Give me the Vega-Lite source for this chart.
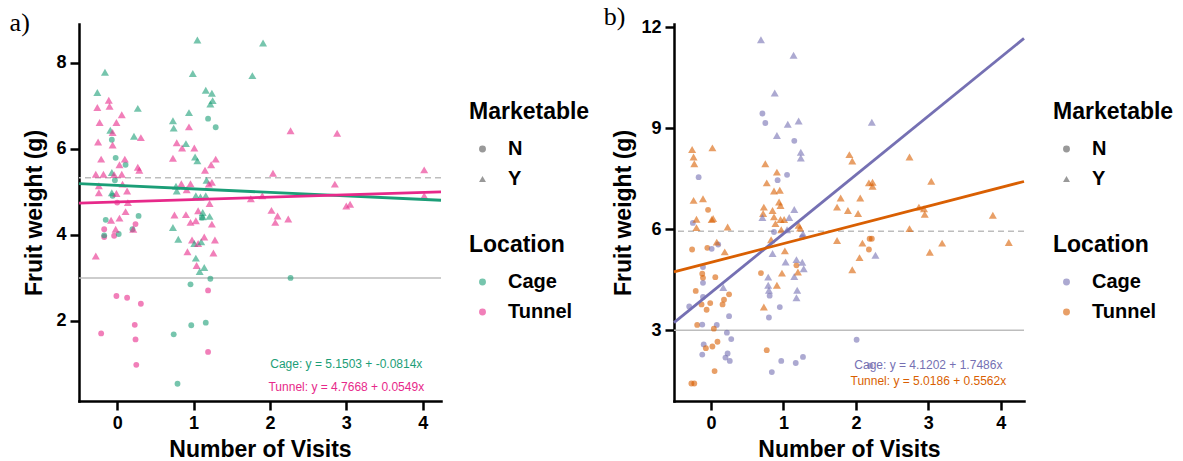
{
"$schema": "https://vega.github.io/schema/vega-lite/v6.json",
"padding": {"left": 9, "top": 4, "right": 5, "bottom": 0},
"background": "white",
"datasets": {
"ptsA": [
{"x":-0.16,"y":7.78,"loc":"Cage","mk":"Y"},{"x":-0.26,"y":7.31,"loc":"Cage","mk":"Y"},{"x":-0.11,"y":7.13,"loc":"Tunnel","mk":"Y"},{"x":-0.26,"y":6.96,"loc":"Tunnel","mk":"Y"},{"x":-0.10,"y":6.99,"loc":"Tunnel","mk":"Y"},{"x":0.06,"y":6.79,"loc":"Tunnel","mk":"Y"},{"x":-0.23,"y":6.61,"loc":"Tunnel","mk":"Y"},{"x":-0.01,"y":6.61,"loc":"Tunnel","mk":"Y"},{"x":0.27,"y":6.94,"loc":"Cage","mk":"Y"},{"x":-0.09,"y":6.43,"loc":"Cage","mk":"Y"},
{"x":-0.06,"y":6.38,"loc":"Tunnel","mk":"Y"},{"x":-0.07,"y":6.21,"loc":"Cage","mk":"N"},{"x":0.22,"y":6.29,"loc":"Cage","mk":"Y"},{"x":0.31,"y":6.26,"loc":"Tunnel","mk":"Y"},{"x":-0.25,"y":6.16,"loc":"Tunnel","mk":"Y"},{"x":-0.06,"y":6.09,"loc":"Tunnel","mk":"Y"},{"x":-0.02,"y":5.79,"loc":"Cage","mk":"N"},{"x":-0.21,"y":5.76,"loc":"Tunnel","mk":"Y"},{"x":0.10,"y":5.76,"loc":"Tunnel","mk":"Y"},{"x":0.11,"y":5.63,"loc":"Cage","mk":"N"},
{"x":0.03,"y":5.63,"loc":"Tunnel","mk":"Y"},{"x":0.27,"y":5.57,"loc":"Tunnel","mk":"Y"},{"x":0.29,"y":5.50,"loc":"Tunnel","mk":"Y"},{"x":-0.28,"y":5.41,"loc":"Tunnel","mk":"Y"},{"x":-0.18,"y":5.41,"loc":"Tunnel","mk":"Y"},{"x":-0.07,"y":5.45,"loc":"Cage","mk":"Y"},{"x":-0.04,"y":5.40,"loc":"Tunnel","mk":"Y"},{"x":0.06,"y":5.41,"loc":"Tunnel","mk":"Y"},{"x":-0.03,"y":5.27,"loc":"Cage","mk":"N"},{"x":-0.24,"y":5.14,"loc":"Tunnel","mk":"Y"},
{"x":0.07,"y":5.18,"loc":"Tunnel","mk":"Y"},{"x":-0.24,"y":4.98,"loc":"Tunnel","mk":"Y"},{"x":-0.07,"y":4.98,"loc":"Cage","mk":"Y"},{"x":-0.01,"y":4.96,"loc":"Tunnel","mk":"Y"},{"x":0.13,"y":5.02,"loc":"Tunnel","mk":"Y"},{"x":-0.06,"y":4.91,"loc":"Cage","mk":"N"},{"x":0.00,"y":4.75,"loc":"Tunnel","mk":"N"},{"x":0.14,"y":4.75,"loc":"Tunnel","mk":"Y"},{"x":0.11,"y":4.54,"loc":"Tunnel","mk":"Y"},{"x":0.28,"y":4.44,"loc":"Cage","mk":"N"},
{"x":-0.15,"y":4.35,"loc":"Cage","mk":"N"},{"x":-0.08,"y":4.34,"loc":"Tunnel","mk":"Y"},{"x":0.03,"y":4.39,"loc":"Tunnel","mk":"Y"},{"x":0.24,"y":4.25,"loc":"Tunnel","mk":"N"},{"x":-0.17,"y":4.13,"loc":"Tunnel","mk":"N"},{"x":-0.02,"y":4.13,"loc":"Tunnel","mk":"Y"},{"x":0.20,"y":4.13,"loc":"Cage","mk":"N"},{"x":0.21,"y":4.13,"loc":"Tunnel","mk":"Y"},{"x":-0.17,"y":3.95,"loc":"Tunnel","mk":"N"},{"x":-0.17,"y":3.99,"loc":"Cage","mk":"N"},
{"x":-0.04,"y":3.98,"loc":"Tunnel","mk":"N"},{"x":0.02,"y":4.02,"loc":"Cage","mk":"N"},{"x":-0.28,"y":3.51,"loc":"Tunnel","mk":"Y"},{"x":-0.01,"y":2.58,"loc":"Tunnel","mk":"N"},{"x":0.13,"y":2.54,"loc":"Tunnel","mk":"N"},{"x":0.31,"y":2.40,"loc":"Tunnel","mk":"N"},{"x":-0.21,"y":1.71,"loc":"Tunnel","mk":"N"},{"x":0.23,"y":1.91,"loc":"Tunnel","mk":"N"},{"x":0.24,"y":1.57,"loc":"Tunnel","mk":"N"},{"x":0.25,"y":0.98,"loc":"Tunnel","mk":"N"},
{"x":1.05,"y":8.53,"loc":"Cage","mk":"Y"},{"x":0.99,"y":7.75,"loc":"Cage","mk":"Y"},{"x":1.16,"y":7.36,"loc":"Cage","mk":"Y"},{"x":1.24,"y":7.29,"loc":"Cage","mk":"Y"},{"x":1.25,"y":7.12,"loc":"Cage","mk":"Y"},{"x":1.22,"y":7.04,"loc":"Cage","mk":"Y"},{"x":0.94,"y":6.84,"loc":"Cage","mk":"Y"},{"x":0.73,"y":6.65,"loc":"Cage","mk":"Y"},{"x":0.74,"y":6.48,"loc":"Cage","mk":"Y"},{"x":0.94,"y":6.51,"loc":"Tunnel","mk":"Y"},
{"x":1.19,"y":6.70,"loc":"Cage","mk":"N"},{"x":1.29,"y":6.50,"loc":"Cage","mk":"N"},{"x":0.78,"y":6.14,"loc":"Tunnel","mk":"Y"},{"x":0.85,"y":6.02,"loc":"Tunnel","mk":"Y"},{"x":0.90,"y":6.12,"loc":"Cage","mk":"Y"},{"x":1.01,"y":6.02,"loc":"Tunnel","mk":"Y"},{"x":0.73,"y":5.78,"loc":"Tunnel","mk":"Y"},{"x":1.02,"y":5.81,"loc":"Cage","mk":"Y"},{"x":1.05,"y":5.72,"loc":"Cage","mk":"Y"},{"x":1.15,"y":5.50,"loc":"Tunnel","mk":"Y"},
{"x":1.23,"y":5.63,"loc":"Tunnel","mk":"Y"},{"x":1.29,"y":5.76,"loc":"Tunnel","mk":"Y"},{"x":1.17,"y":5.27,"loc":"Cage","mk":"Y"},{"x":1.24,"y":5.22,"loc":"Tunnel","mk":"Y"},{"x":1.20,"y":5.18,"loc":"Tunnel","mk":"Y"},{"x":0.77,"y":5.13,"loc":"Cage","mk":"Y"},{"x":0.84,"y":5.19,"loc":"Tunnel","mk":"Y"},{"x":0.96,"y":5.19,"loc":"Tunnel","mk":"Y"},{"x":0.78,"y":5.02,"loc":"Cage","mk":"Y"},{"x":0.91,"y":5.05,"loc":"Tunnel","mk":"Y"},
{"x":1.03,"y":4.91,"loc":"Cage","mk":"Y"},{"x":1.09,"y":4.88,"loc":"Cage","mk":"Y"},{"x":1.16,"y":4.91,"loc":"Cage","mk":"Y"},{"x":1.21,"y":4.73,"loc":"Tunnel","mk":"Y"},{"x":1.06,"y":4.56,"loc":"Tunnel","mk":"Y"},{"x":1.12,"y":4.52,"loc":"Cage","mk":"Y"},{"x":0.75,"y":4.46,"loc":"Tunnel","mk":"Y"},{"x":0.90,"y":4.47,"loc":"Tunnel","mk":"Y"},{"x":1.12,"y":4.42,"loc":"Cage","mk":"Y"},{"x":1.21,"y":4.43,"loc":"Cage","mk":"Y"},
{"x":0.96,"y":4.29,"loc":"Tunnel","mk":"Y"},{"x":1.03,"y":4.33,"loc":"Tunnel","mk":"Y"},{"x":1.11,"y":4.40,"loc":"Cage","mk":"N"},{"x":1.24,"y":4.25,"loc":"Tunnel","mk":"Y"},{"x":0.73,"y":4.17,"loc":"Cage","mk":"Y"},{"x":0.80,"y":3.90,"loc":"Cage","mk":"Y"},{"x":0.98,"y":3.88,"loc":"Tunnel","mk":"Y"},{"x":1.01,"y":3.80,"loc":"Cage","mk":"Y"},{"x":1.06,"y":3.80,"loc":"Tunnel","mk":"Y"},{"x":1.10,"y":3.84,"loc":"Cage","mk":"Y"},
{"x":1.14,"y":3.95,"loc":"Tunnel","mk":"Y"},{"x":1.28,"y":3.88,"loc":"Tunnel","mk":"Y"},{"x":0.92,"y":3.61,"loc":"Tunnel","mk":"Y"},{"x":1.26,"y":3.58,"loc":"Tunnel","mk":"Y"},{"x":1.03,"y":3.46,"loc":"Cage","mk":"Y"},{"x":1.04,"y":3.29,"loc":"Tunnel","mk":"Y"},{"x":1.14,"y":3.24,"loc":"Cage","mk":"Y"},{"x":1.08,"y":3.15,"loc":"Cage","mk":"Y"},{"x":1.22,"y":2.98,"loc":"Cage","mk":"N"},{"x":0.96,"y":2.85,"loc":"Cage","mk":"N"},
{"x":1.19,"y":2.71,"loc":"Tunnel","mk":"N"},{"x":0.97,"y":1.90,"loc":"Cage","mk":"N"},{"x":1.16,"y":1.96,"loc":"Cage","mk":"N"},{"x":0.74,"y":1.69,"loc":"Cage","mk":"N"},{"x":1.19,"y":1.28,"loc":"Tunnel","mk":"N"},{"x":0.79,"y":0.54,"loc":"Cage","mk":"N"},
{"x":1.91,"y":8.46,"loc":"Cage","mk":"Y"},{"x":1.77,"y":7.70,"loc":"Cage","mk":"Y"},{"x":2.27,"y":6.42,"loc":"Tunnel","mk":"Y"},{"x":2.88,"y":6.36,"loc":"Tunnel","mk":"Y"},{"x":2.04,"y":5.43,"loc":"Tunnel","mk":"Y"},{"x":4.02,"y":5.51,"loc":"Tunnel","mk":"Y"},{"x":2.85,"y":5.18,"loc":"Tunnel","mk":"Y"},{"x":1.75,"y":4.84,"loc":"Tunnel","mk":"Y"},{"x":1.90,"y":4.91,"loc":"Tunnel","mk":"Y"},{"x":4.02,"y":4.91,"loc":"Tunnel","mk":"Y"},
{"x":2.02,"y":4.57,"loc":"Tunnel","mk":"Y"},{"x":2.10,"y":4.44,"loc":"Tunnel","mk":"Y"},{"x":2.07,"y":4.29,"loc":"Tunnel","mk":"Y"},{"x":2.24,"y":4.37,"loc":"Tunnel","mk":"Y"},{"x":3.00,"y":4.67,"loc":"Tunnel","mk":"Y"},{"x":3.05,"y":4.71,"loc":"Tunnel","mk":"Y"},{"x":2.27,"y":3.00,"loc":"Cage","mk":"N"}
],
"linA": [
{"x":-0.5,"y":5.191,"loc":"Cage"},{"x":4.24,"y":4.805,"loc":"Cage"},{"x":-0.5,"y":4.739,"loc":"Tunnel"},{"x":4.24,"y":5.000,"loc":"Tunnel"}
],
"refA": [{"y":3,"kind":"solid"},{"y":5.33,"kind":"dashed"}],
"txtA": [
{"x":3,"y":0.99,"loc":"Cage","label":"Cage: y = 5.1503 + -0.0814x"},
{"x":3,"y":0.47,"loc":"Tunnel","label":"Tunnel: y = 4.7668 + 0.0549x"}
],
"ptsB": [
{"x":-0.26,"y":8.37,"loc":"Tunnel","mk":"Y"},{"x":-0.24,"y":8.15,"loc":"Tunnel","mk":"Y"},{"x":-0.23,"y":7.95,"loc":"Tunnel","mk":"Y"},{"x":0.02,"y":8.42,"loc":"Tunnel","mk":"Y"},{"x":-0.17,"y":7.55,"loc":"Cage","mk":"N"},{"x":-0.24,"y":6.86,"loc":"Tunnel","mk":"Y"},{"x":-0.11,"y":6.91,"loc":"Tunnel","mk":"Y"},{"x":-0.04,"y":6.58,"loc":"Tunnel","mk":"N"},{"x":-0.20,"y":6.30,"loc":"Tunnel","mk":"Y"},{"x":0.03,"y":6.32,"loc":"Tunnel","mk":"Y"},
{"x":0.01,"y":6.29,"loc":"Tunnel","mk":"Y"},{"x":-0.25,"y":6.19,"loc":"Cage","mk":"N"},{"x":-0.20,"y":6.05,"loc":"Tunnel","mk":"Y"},{"x":0.23,"y":6.07,"loc":"Tunnel","mk":"Y"},{"x":0.08,"y":5.62,"loc":"Tunnel","mk":"Y"},{"x":0.10,"y":5.55,"loc":"Cage","mk":"N"},{"x":-0.26,"y":5.40,"loc":"Tunnel","mk":"N"},{"x":-0.05,"y":5.45,"loc":"Tunnel","mk":"N"},{"x":0.01,"y":5.42,"loc":"Cage","mk":"N"},{"x":0.19,"y":5.33,"loc":"Tunnel","mk":"Y"},
{"x":-0.11,"y":4.88,"loc":"Cage","mk":"N"},{"x":-0.12,"y":4.68,"loc":"Tunnel","mk":"N"},{"x":-0.11,"y":4.56,"loc":"Tunnel","mk":"N"},{"x":0.06,"y":4.58,"loc":"Tunnel","mk":"N"},{"x":-0.11,"y":4.41,"loc":"Cage","mk":"N"},{"x":-0.21,"y":4.17,"loc":"Tunnel","mk":"N"},{"x":0.17,"y":4.27,"loc":"Cage","mk":"Y"},{"x":0.18,"y":3.91,"loc":"Tunnel","mk":"N"},{"x":0.25,"y":4.07,"loc":"Tunnel","mk":"N"},{"x":-0.11,"y":3.99,"loc":"Cage","mk":"N"},
{"x":-0.13,"y":3.77,"loc":"Tunnel","mk":"N"},{"x":-0.01,"y":3.81,"loc":"Tunnel","mk":"N"},{"x":0.16,"y":3.77,"loc":"Tunnel","mk":"N"},{"x":-0.30,"y":3.71,"loc":"Cage","mk":"N"},{"x":-0.06,"y":3.61,"loc":"Tunnel","mk":"N"},{"x":0.25,"y":3.42,"loc":"Cage","mk":"N"},{"x":-0.19,"y":3.16,"loc":"Tunnel","mk":"N"},{"x":-0.12,"y":3.17,"loc":"Cage","mk":"N"},{"x":0.08,"y":3.16,"loc":"Cage","mk":"N"},{"x":0.04,"y":3.05,"loc":"Tunnel","mk":"N"},
{"x":0.22,"y":2.93,"loc":"Cage","mk":"N"},{"x":0.28,"y":2.74,"loc":"Cage","mk":"N"},{"x":0.09,"y":2.66,"loc":"Tunnel","mk":"N"},{"x":0.02,"y":2.52,"loc":"Tunnel","mk":"N"},{"x":-0.10,"y":2.58,"loc":"Cage","mk":"N"},{"x":-0.07,"y":2.47,"loc":"Tunnel","mk":"N"},{"x":-0.12,"y":2.28,"loc":"Cage","mk":"N"},{"x":0.23,"y":2.31,"loc":"Cage","mk":"N"},{"x":0.20,"y":2.19,"loc":"Cage","mk":"N"},{"x":0.26,"y":2.09,"loc":"Cage","mk":"N"},
{"x":0.05,"y":1.79,"loc":"Tunnel","mk":"N"},{"x":-0.27,"y":1.42,"loc":"Tunnel","mk":"N"},{"x":-0.23,"y":1.42,"loc":"Tunnel","mk":"N"},
{"x":0.69,"y":11.63,"loc":"Cage","mk":"Y"},{"x":1.14,"y":11.17,"loc":"Cage","mk":"Y"},{"x":0.88,"y":10.05,"loc":"Cage","mk":"Y"},{"x":0.71,"y":9.44,"loc":"Cage","mk":"N"},{"x":0.75,"y":9.16,"loc":"Cage","mk":"N"},{"x":1.06,"y":9.12,"loc":"Cage","mk":"Y"},{"x":1.21,"y":9.22,"loc":"Cage","mk":"Y"},{"x":0.91,"y":8.79,"loc":"Cage","mk":"Y"},{"x":1.15,"y":8.63,"loc":"Cage","mk":"N"},{"x":1.24,"y":8.29,"loc":"Cage","mk":"Y"},
{"x":1.24,"y":8.12,"loc":"Cage","mk":"Y"},{"x":0.75,"y":7.95,"loc":"Tunnel","mk":"Y"},{"x":0.91,"y":7.70,"loc":"Tunnel","mk":"Y"},{"x":1.05,"y":7.62,"loc":"Cage","mk":"N"},{"x":0.77,"y":7.38,"loc":"Tunnel","mk":"Y"},{"x":0.92,"y":7.46,"loc":"Cage","mk":"N"},{"x":0.87,"y":7.14,"loc":"Tunnel","mk":"Y"},{"x":0.95,"y":7.16,"loc":"Tunnel","mk":"Y"},{"x":0.94,"y":6.81,"loc":"Tunnel","mk":"Y"},{"x":0.96,"y":6.71,"loc":"Tunnel","mk":"Y"},
{"x":0.73,"y":6.66,"loc":"Tunnel","mk":"Y"},{"x":0.72,"y":6.47,"loc":"Tunnel","mk":"Y"},{"x":0.85,"y":6.56,"loc":"Tunnel","mk":"Y"},{"x":0.87,"y":6.37,"loc":"Tunnel","mk":"Y"},{"x":0.71,"y":6.35,"loc":"Cage","mk":"Y"},{"x":1.15,"y":6.59,"loc":"Cage","mk":"Y"},{"x":0.96,"y":6.29,"loc":"Tunnel","mk":"Y"},{"x":1.01,"y":6.29,"loc":"Tunnel","mk":"Y"},{"x":0.89,"y":6.17,"loc":"Tunnel","mk":"Y"},{"x":1.08,"y":6.35,"loc":"Cage","mk":"Y"},
{"x":1.21,"y":6.12,"loc":"Tunnel","mk":"Y"},{"x":1.23,"y":6.04,"loc":"Tunnel","mk":"Y"},{"x":0.87,"y":5.92,"loc":"Cage","mk":"N"},{"x":0.97,"y":5.99,"loc":"Tunnel","mk":"Y"},{"x":1.05,"y":5.99,"loc":"Cage","mk":"Y"},{"x":1.26,"y":5.77,"loc":"Cage","mk":"N"},{"x":1.27,"y":5.87,"loc":"Cage","mk":"Y"},{"x":0.83,"y":5.69,"loc":"Tunnel","mk":"Y"},{"x":0.85,"y":5.28,"loc":"Cage","mk":"Y"},{"x":1.02,"y":5.36,"loc":"Tunnel","mk":"Y"},
{"x":1.03,"y":5.03,"loc":"Cage","mk":"Y"},{"x":1.18,"y":5.10,"loc":"Cage","mk":"Y"},{"x":1.26,"y":5.02,"loc":"Cage","mk":"Y"},{"x":1.28,"y":4.83,"loc":"Cage","mk":"Y"},{"x":0.69,"y":4.70,"loc":"Tunnel","mk":"N"},{"x":0.79,"y":4.58,"loc":"Cage","mk":"Y"},{"x":0.98,"y":4.70,"loc":"Tunnel","mk":"Y"},{"x":1.15,"y":4.60,"loc":"Cage","mk":"Y"},{"x":1.18,"y":4.93,"loc":"Tunnel","mk":"N"},{"x":1.20,"y":4.73,"loc":"Tunnel","mk":"Y"},
{"x":0.79,"y":4.34,"loc":"Cage","mk":"Y"},{"x":0.80,"y":4.19,"loc":"Cage","mk":"Y"},{"x":0.91,"y":4.34,"loc":"Tunnel","mk":"Y"},{"x":0.81,"y":4.03,"loc":"Cage","mk":"N"},{"x":1.19,"y":4.19,"loc":"Cage","mk":"Y"},{"x":1.18,"y":3.97,"loc":"Cage","mk":"Y"},{"x":0.73,"y":3.69,"loc":"Tunnel","mk":"Y"},{"x":0.95,"y":3.69,"loc":"Cage","mk":"N"},{"x":0.80,"y":3.38,"loc":"Cage","mk":"N"},{"x":0.77,"y":2.41,"loc":"Tunnel","mk":"N"},
{"x":0.97,"y":2.09,"loc":"Cage","mk":"N"},{"x":1.17,"y":2.03,"loc":"Cage","mk":"N"},{"x":1.27,"y":2.21,"loc":"Cage","mk":"N"},{"x":0.84,"y":1.76,"loc":"Cage","mk":"N"},
{"x":2.22,"y":9.18,"loc":"Cage","mk":"Y"},{"x":1.91,"y":8.22,"loc":"Tunnel","mk":"Y"},{"x":1.95,"y":8.03,"loc":"Tunnel","mk":"Y"},{"x":2.74,"y":8.15,"loc":"Tunnel","mk":"Y"},{"x":2.18,"y":7.38,"loc":"Tunnel","mk":"Y"},{"x":2.23,"y":7.40,"loc":"Tunnel","mk":"Y"},{"x":2.23,"y":7.28,"loc":"Tunnel","mk":"Y"},{"x":3.04,"y":7.43,"loc":"Tunnel","mk":"Y"},{"x":1.79,"y":6.93,"loc":"Tunnel","mk":"Y"},{"x":2.06,"y":6.93,"loc":"Tunnel","mk":"Y"},
{"x":1.74,"y":6.66,"loc":"Tunnel","mk":"Y"},{"x":1.89,"y":6.56,"loc":"Tunnel","mk":"Y"},{"x":2.03,"y":6.47,"loc":"Tunnel","mk":"Y"},{"x":2.87,"y":6.66,"loc":"Tunnel","mk":"Y"},{"x":2.94,"y":6.61,"loc":"Tunnel","mk":"Y"},{"x":2.95,"y":6.45,"loc":"Tunnel","mk":"Y"},{"x":3.89,"y":6.42,"loc":"Tunnel","mk":"Y"},{"x":2.74,"y":6.02,"loc":"Tunnel","mk":"Y"},{"x":1.74,"y":5.67,"loc":"Tunnel","mk":"Y"},{"x":2.09,"y":5.59,"loc":"Tunnel","mk":"Y"},
{"x":2.19,"y":5.72,"loc":"Tunnel","mk":"N"},{"x":2.22,"y":5.72,"loc":"Tunnel","mk":"N"},{"x":2.18,"y":5.40,"loc":"Tunnel","mk":"N"},{"x":2.27,"y":5.23,"loc":"Cage","mk":"Y"},{"x":2.05,"y":5.16,"loc":"Tunnel","mk":"Y"},{"x":1.95,"y":4.80,"loc":"Tunnel","mk":"Y"},{"x":3.19,"y":5.59,"loc":"Tunnel","mk":"Y"},{"x":3.02,"y":5.32,"loc":"Tunnel","mk":"Y"},{"x":4.11,"y":5.61,"loc":"Tunnel","mk":"Y"},{"x":2.01,"y":2.72,"loc":"Cage","mk":"N"},
{"x":2.20,"y":1.95,"loc":"Cage","mk":"N"}
],
"linB": [
{"x":-0.51,"y":3.228,"loc":"Cage"},{"x":4.32,"y":11.674,"loc":"Cage"},{"x":-0.51,"y":4.735,"loc":"Tunnel"},{"x":4.32,"y":7.421,"loc":"Tunnel"}
],
"refB": [{"y":3,"kind":"solid"},{"y":5.94,"kind":"dashed"}],
"txtB": [
{"x":3,"y":1.96,"loc":"Cage","label":"Cage: y = 4.1202 + 1.7486x"},
{"x":3,"y":1.49,"loc":"Tunnel","label":"Tunnel: y = 5.0186 + 0.5562x"}
]
},
"hconcat": [
{
"width": 362, "height": 377,
"title": {"text": "a)", "orient": "left", "angle": 0, "anchor": "end", "align": "right", "baseline": "top", "font": "Liberation Serif", "fontSize": 26, "fontWeight": "normal", "color": "black", "offset": -26, "dy": -14},
"encoding": {
"y": {"field": "y", "type": "quantitative", "title": "Fruit weight (g)", "scale": {"domain": [0.14, 8.9], "nice": false, "zero": false}, "axis": {"values": [2,4,6,8], "format": "d", "titlePadding": 9}}
},
"layer": [
{"data": {"name": "refA"}, "mark": {"type": "rule", "strokeWidth": 1.5},
 "encoding": {"color": {"value": "#bdbdbd"}, "strokeDash": {"field": "kind", "type": "nominal", "scale": {"domain": ["solid","dashed"], "range": [[1,0],[6,4]]}, "legend": null}}},
{"data": {"name": "ptsA"}, "transform": [{"filter": "datum.mk == 'N'"}], "mark": {"type": "point", "filled": true, "opacity": 0.6, "strokeWidth": 0, "size": 34},
 "encoding": {
  "x": {"field": "x", "type": "quantitative", "title": "Number of Visits", "scale": {"domain": [-0.5, 4.24], "nice": false, "zero": false}, "axis": {"values": [0,1,2,3,4], "format": "d"}},
  "color": {"field": "loc", "type": "nominal", "scale": {"domain": ["Cage","Tunnel"], "range": ["#1b9e77","#e7298a"]}, "legend": {"title": "Location", "orient": "none", "legendX": 390, "legendY": 210, "symbolType": "circle", "symbolOpacity": 0.6, "symbolStrokeWidth": 0}},
  "shape": {"field": "mk", "type": "nominal", "scale": {"domain": ["N","Y"], "range": ["circle","triangle-up"]}, "legend": {"title": "Marketable", "orient": "none", "legendX": 390, "legendY": 77, "symbolFillColor": "#555555", "symbolStrokeColor": "#555555", "symbolStrokeWidth": 0}}
 }},
{"data": {"name": "ptsA"}, "transform": [{"filter": "datum.mk == 'Y'"}], "mark": {"type": "point", "filled": true, "opacity": 0.6, "strokeWidth": 0, "size": 64},
 "encoding": {
  "x": {"field": "x", "type": "quantitative", "title": "Number of Visits", "scale": {"domain": [-0.5, 4.24], "nice": false, "zero": false}, "axis": {"values": [0,1,2,3,4], "format": "d"}},
  "color": {"field": "loc", "type": "nominal", "scale": {"domain": ["Cage","Tunnel"], "range": ["#1b9e77","#e7298a"]}, "legend": {"title": "Location", "orient": "none", "legendX": 390, "legendY": 210, "symbolType": "circle", "symbolOpacity": 0.6, "symbolStrokeWidth": 0}},
  "shape": {"field": "mk", "type": "nominal", "scale": {"domain": ["N","Y"], "range": ["circle","triangle-up"]}, "legend": {"title": "Marketable", "orient": "none", "legendX": 390, "legendY": 77, "symbolFillColor": "#555555", "symbolStrokeColor": "#555555", "symbolStrokeWidth": 0}}
 }},
{"data": {"name": "linA"}, "mark": {"type": "line", "strokeWidth": 2.8},
 "encoding": {
  "x": {"field": "x", "type": "quantitative", "scale": {"domain": [-0.5, 4.24], "nice": false, "zero": false}},
  "color": {"field": "loc", "type": "nominal", "scale": {"domain": ["Cage","Tunnel"], "range": ["#1b9e77","#e7298a"]}, "legend": null}
 }},
{"data": {"name": "txtA"}, "mark": {"type": "text", "fontSize": 12, "font": "Liberation Sans", "align": "center", "baseline": "middle"},
 "encoding": {
  "x": {"field": "x", "type": "quantitative", "scale": {"domain": [-0.5, 4.24], "nice": false, "zero": false}},
  "text": {"field": "label", "type": "nominal"},
  "color": {"field": "loc", "type": "nominal", "scale": {"domain": ["Cage","Tunnel"], "range": ["#1b9e77","#e7298a"]}, "legend": null}
 }}
]
},
{
"width": 350, "height": 377,
"title": {"text": "b)", "orient": "left", "angle": 0, "anchor": "end", "align": "right", "baseline": "top", "font": "Liberation Serif", "fontSize": 26, "fontWeight": "normal", "color": "black", "offset": -34, "dy": -14},
"encoding": {
"y": {"field": "y", "type": "quantitative", "title": "Fruit weight (g)", "scale": {"domain": [0.9, 12.1], "nice": false, "zero": false}, "axis": {"values": [3,6,9,12], "format": "d", "titlePadding": 5}}
},
"layer": [
{"data": {"name": "refB"}, "mark": {"type": "rule", "strokeWidth": 1.5},
 "encoding": {"color": {"value": "#bdbdbd"}, "strokeDash": {"field": "kind", "type": "nominal", "scale": {"domain": ["solid","dashed"], "range": [[1,0],[6,4]]}, "legend": null}}},
{"data": {"name": "ptsB"}, "transform": [{"filter": "datum.mk == 'N'"}], "mark": {"type": "point", "filled": true, "opacity": 0.6, "strokeWidth": 0, "size": 34},
 "encoding": {
  "x": {"field": "x", "type": "quantitative", "title": "Number of Visits", "scale": {"domain": [-0.51, 4.32], "nice": false, "zero": false}, "axis": {"values": [0,1,2,3,4], "format": "d"}},
  "color": {"field": "loc", "type": "nominal", "scale": {"domain": ["Cage","Tunnel"], "range": ["#7570b3","#d95f02"]}, "legend": {"title": "Location", "orient": "none", "legendX": 379, "legendY": 210, "symbolType": "circle", "symbolOpacity": 0.6, "symbolStrokeWidth": 0}},
  "shape": {"field": "mk", "type": "nominal", "scale": {"domain": ["N","Y"], "range": ["circle","triangle-up"]}, "legend": {"title": "Marketable", "orient": "none", "legendX": 379, "legendY": 77, "symbolFillColor": "#555555", "symbolStrokeColor": "#555555", "symbolStrokeWidth": 0}}
 }},
{"data": {"name": "ptsB"}, "transform": [{"filter": "datum.mk == 'Y'"}], "mark": {"type": "point", "filled": true, "opacity": 0.6, "strokeWidth": 0, "size": 64},
 "encoding": {
  "x": {"field": "x", "type": "quantitative", "title": "Number of Visits", "scale": {"domain": [-0.51, 4.32], "nice": false, "zero": false}, "axis": {"values": [0,1,2,3,4], "format": "d"}},
  "color": {"field": "loc", "type": "nominal", "scale": {"domain": ["Cage","Tunnel"], "range": ["#7570b3","#d95f02"]}, "legend": {"title": "Location", "orient": "none", "legendX": 379, "legendY": 210, "symbolType": "circle", "symbolOpacity": 0.6, "symbolStrokeWidth": 0}},
  "shape": {"field": "mk", "type": "nominal", "scale": {"domain": ["N","Y"], "range": ["circle","triangle-up"]}, "legend": {"title": "Marketable", "orient": "none", "legendX": 379, "legendY": 77, "symbolFillColor": "#555555", "symbolStrokeColor": "#555555", "symbolStrokeWidth": 0}}
 }},
{"data": {"name": "linB"}, "mark": {"type": "line", "strokeWidth": 2.8},
 "encoding": {
  "x": {"field": "x", "type": "quantitative", "scale": {"domain": [-0.51, 4.32], "nice": false, "zero": false}},
  "color": {"field": "loc", "type": "nominal", "scale": {"domain": ["Cage","Tunnel"], "range": ["#7570b3","#d95f02"]}, "legend": null}
 }},
{"data": {"name": "txtB"}, "mark": {"type": "text", "fontSize": 12, "font": "Liberation Sans", "align": "center", "baseline": "middle"},
 "encoding": {
  "x": {"field": "x", "type": "quantitative", "scale": {"domain": [-0.51, 4.32], "nice": false, "zero": false}},
  "text": {"field": "label", "type": "nominal"},
  "color": {"field": "loc", "type": "nominal", "scale": {"domain": ["Cage","Tunnel"], "range": ["#7570b3","#d95f02"]}, "legend": null}
 }}
]
}
],
"spacing": 13,
"resolve": {"scale": {"color": "independent", "shape": "independent", "strokeDash": "independent", "x": "independent", "y": "independent"}, "legend": {"color": "independent", "shape": "independent"}},
"config": {
"view": {"stroke": null},
"font": "Liberation Sans",
"axis": {"grid": false, "domainColor": "black", "domainWidth": 2.5, "domainCap": "square", "tickColor": "black", "tickWidth": 2.5, "tickSize": 9, "labelFont": "Liberation Sans", "labelFontSize": 18, "labelFontWeight": "bold", "labelColor": "black", "labelPadding": 4, "titleFont": "Liberation Sans", "titleFontSize": 23, "titleFontWeight": "bold", "titleColor": "black"},
"axisX": {"titlePadding": 6},
"legend": {"titleFont": "Liberation Sans", "titleFontSize": 23, "titleFontWeight": "bold", "titleColor": "black", "titlePadding": 15, "labelFont": "Liberation Sans", "labelFontSize": 20, "labelFontWeight": "bold", "labelColor": "black", "symbolSize": 48, "symbolOffset": 3.5, "labelOffset": 15.5, "rowPadding": 10, "padding": 0}
}
}
